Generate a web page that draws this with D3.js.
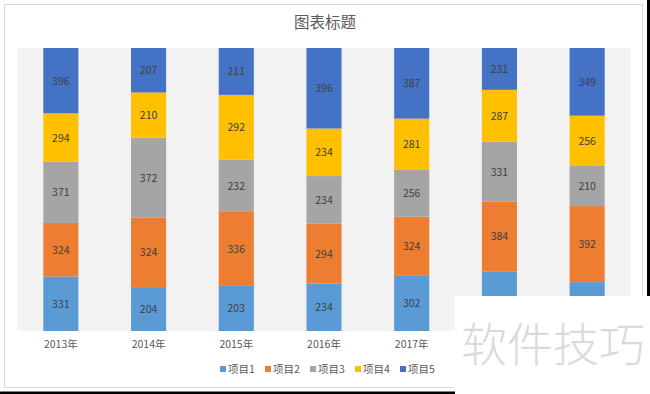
<!DOCTYPE html>
<meta charset="utf-8">
<script src="https://d3js.org/d3.v7.min.js"></script>

<style>
body {margin: 0; background: white;}
text {font-family: "Noto Sans CJK SC", "Liberation Sans", sans-serif;}
.xaxis text {font-size: 10.5px; fill: #595959;}
.xaxis path, .xaxis line {display: none;}
.lbl {font-size: 10.5px; fill: #404040; text-anchor: middle;}
.legend text {font-size: 10.5px; fill: #595959;}
</style>

<svg width="650" height="394"></svg>

<script>
var years = ["2013年", "2014年", "2015年", "2016年", "2017年", "2018年", "2019年"];
var seriesNames = ["项目1", "项目2", "项目3", "项目4", "项目5"];
var colors = ["#5b9bd5", "#ed7d31", "#a5a5a5", "#ffc000", "#4472c4"];

var item1 = [331, 204, 203, 234, 302, 330, 252];
var item2 = [324, 324, 336, 294, 324, 384, 392];
var item3 = [371, 372, 232, 234, 256, 331, 210];
var item4 = [294, 210, 292, 234, 281, 287, 256];
var item5 = [396, 207, 211, 396, 387, 231, 349];

var rows = years.map(function(y, i) {
  return {year: y, "项目1": item1[i], "项目2": item2[i], "项目3": item3[i],
          "项目4": item4[i], "项目5": item5[i]};
});

var svg = d3.select("svg");

// the pasted watermark box in the bottom right hides part of the chart
var cover = {x: 455, y: 296};
function hidden(px, py) { return px > cover.x && py > cover.y - 6; }

// chart frame
svg.append("rect")
  .attr("x", 4.5).attr("y", 4.5).attr("width", 638).attr("height", 383)
  .attr("fill", "white").attr("stroke", "#d9d9d9");

var plot = {left: 17, right: 631, top: 48, bottom: 331};

svg.append("rect")
  .attr("x", plot.left).attr("y", plot.top)
  .attr("width", plot.right - plot.left).attr("height", plot.bottom - plot.top)
  .attr("fill", "#f2f2f2");

svg.append("text")
  .attr("x", 325).attr("y", 28)
  .attr("text-anchor", "middle")
  .attr("font-size", "15.5px")
  .attr("fill", "#595959")
  .text("图表标题");

var x = d3.scaleBand().domain(years)
  .range([plot.left, plot.right]).paddingInner(0.6).paddingOuter(0.3);
var y = d3.scaleLinear().domain([0, 1]).range([plot.bottom, plot.top]);

var stacked = d3.stack().keys(seriesNames).offset(d3.stackOffsetExpand)(rows);

var groups = svg.selectAll(".series")
  .data(stacked)
  .enter().append("g")
  .attr("class", "series")
  .attr("fill", function(d, i) { return colors[i]; });

groups.selectAll("rect")
  .data(function(d) { return d; })
  .enter().append("rect")
  .attr("x", function(d) { return x(d.data.year); })
  .attr("width", x.bandwidth())
  .attr("y", function(d) { return y(d[1]); })
  .attr("height", function(d) { return y(d[0]) - y(d[1]); });

groups.selectAll(".lbl")
  .data(function(s) {
    return s.map(function(d) {
      return {d: d, key: s.key,
              cx: x(d.data.year) + x.bandwidth() / 2,
              cy: (y(d[0]) + y(d[1])) / 2};
    }).filter(function(e) { return !hidden(e.cx, e.cy); });
  })
  .enter().append("text")
  .attr("class", "lbl")
  .attr("x", function(e) { return e.cx; })
  .attr("y", function(e) { return e.cy + 4; })
  .text(function(e) { return e.d.data[e.key]; });

var xAxis = svg.append("g")
  .attr("class", "xaxis")
  .attr("transform", "translate(0," + plot.bottom + ")")
  .call(d3.axisBottom(x).tickSize(0).tickPadding(10));
xAxis.selectAll(".tick")
  .filter(function(d) { return hidden(x(d) + x.bandwidth() / 2, plot.bottom + 15); })
  .remove();

// legend
var legend = svg.append("g").attr("class", "legend")
  .attr("transform", "translate(220,369)");
var li = legend.selectAll("g").data(seriesNames).enter().append("g")
  .attr("transform", function(d, i) { return "translate(" + (i * 45) + ",0)"; });
li.append("rect")
  .attr("x", 0).attr("y", -3).attr("width", 6).attr("height", 6)
  .attr("fill", function(d, i) { return colors[i]; });
li.append("text")
  .attr("x", 8).attr("y", 4)
  .text(function(d) { return d; });

// screenshot edges and watermark
svg.append("rect").attr("x", 0).attr("y", 391.5).attr("width", cover.x).attr("height", 3).attr("fill", "black");
svg.append("rect").attr("x", 647).attr("y", 0).attr("width", 3).attr("height", cover.y).attr("fill", "black");
svg.append("rect").attr("x", cover.x).attr("y", cover.y).attr("width", 650 - cover.x).attr("height", 394 - cover.y).attr("fill", "white");
svg.append("text")
  .attr("x", 553).attr("y", 361)
  .attr("text-anchor", "middle")
  .attr("font-size", "46px")
  .attr("font-weight", 300)
  .attr("fill", "#dadada")
  .text("软件技巧");
</script>
